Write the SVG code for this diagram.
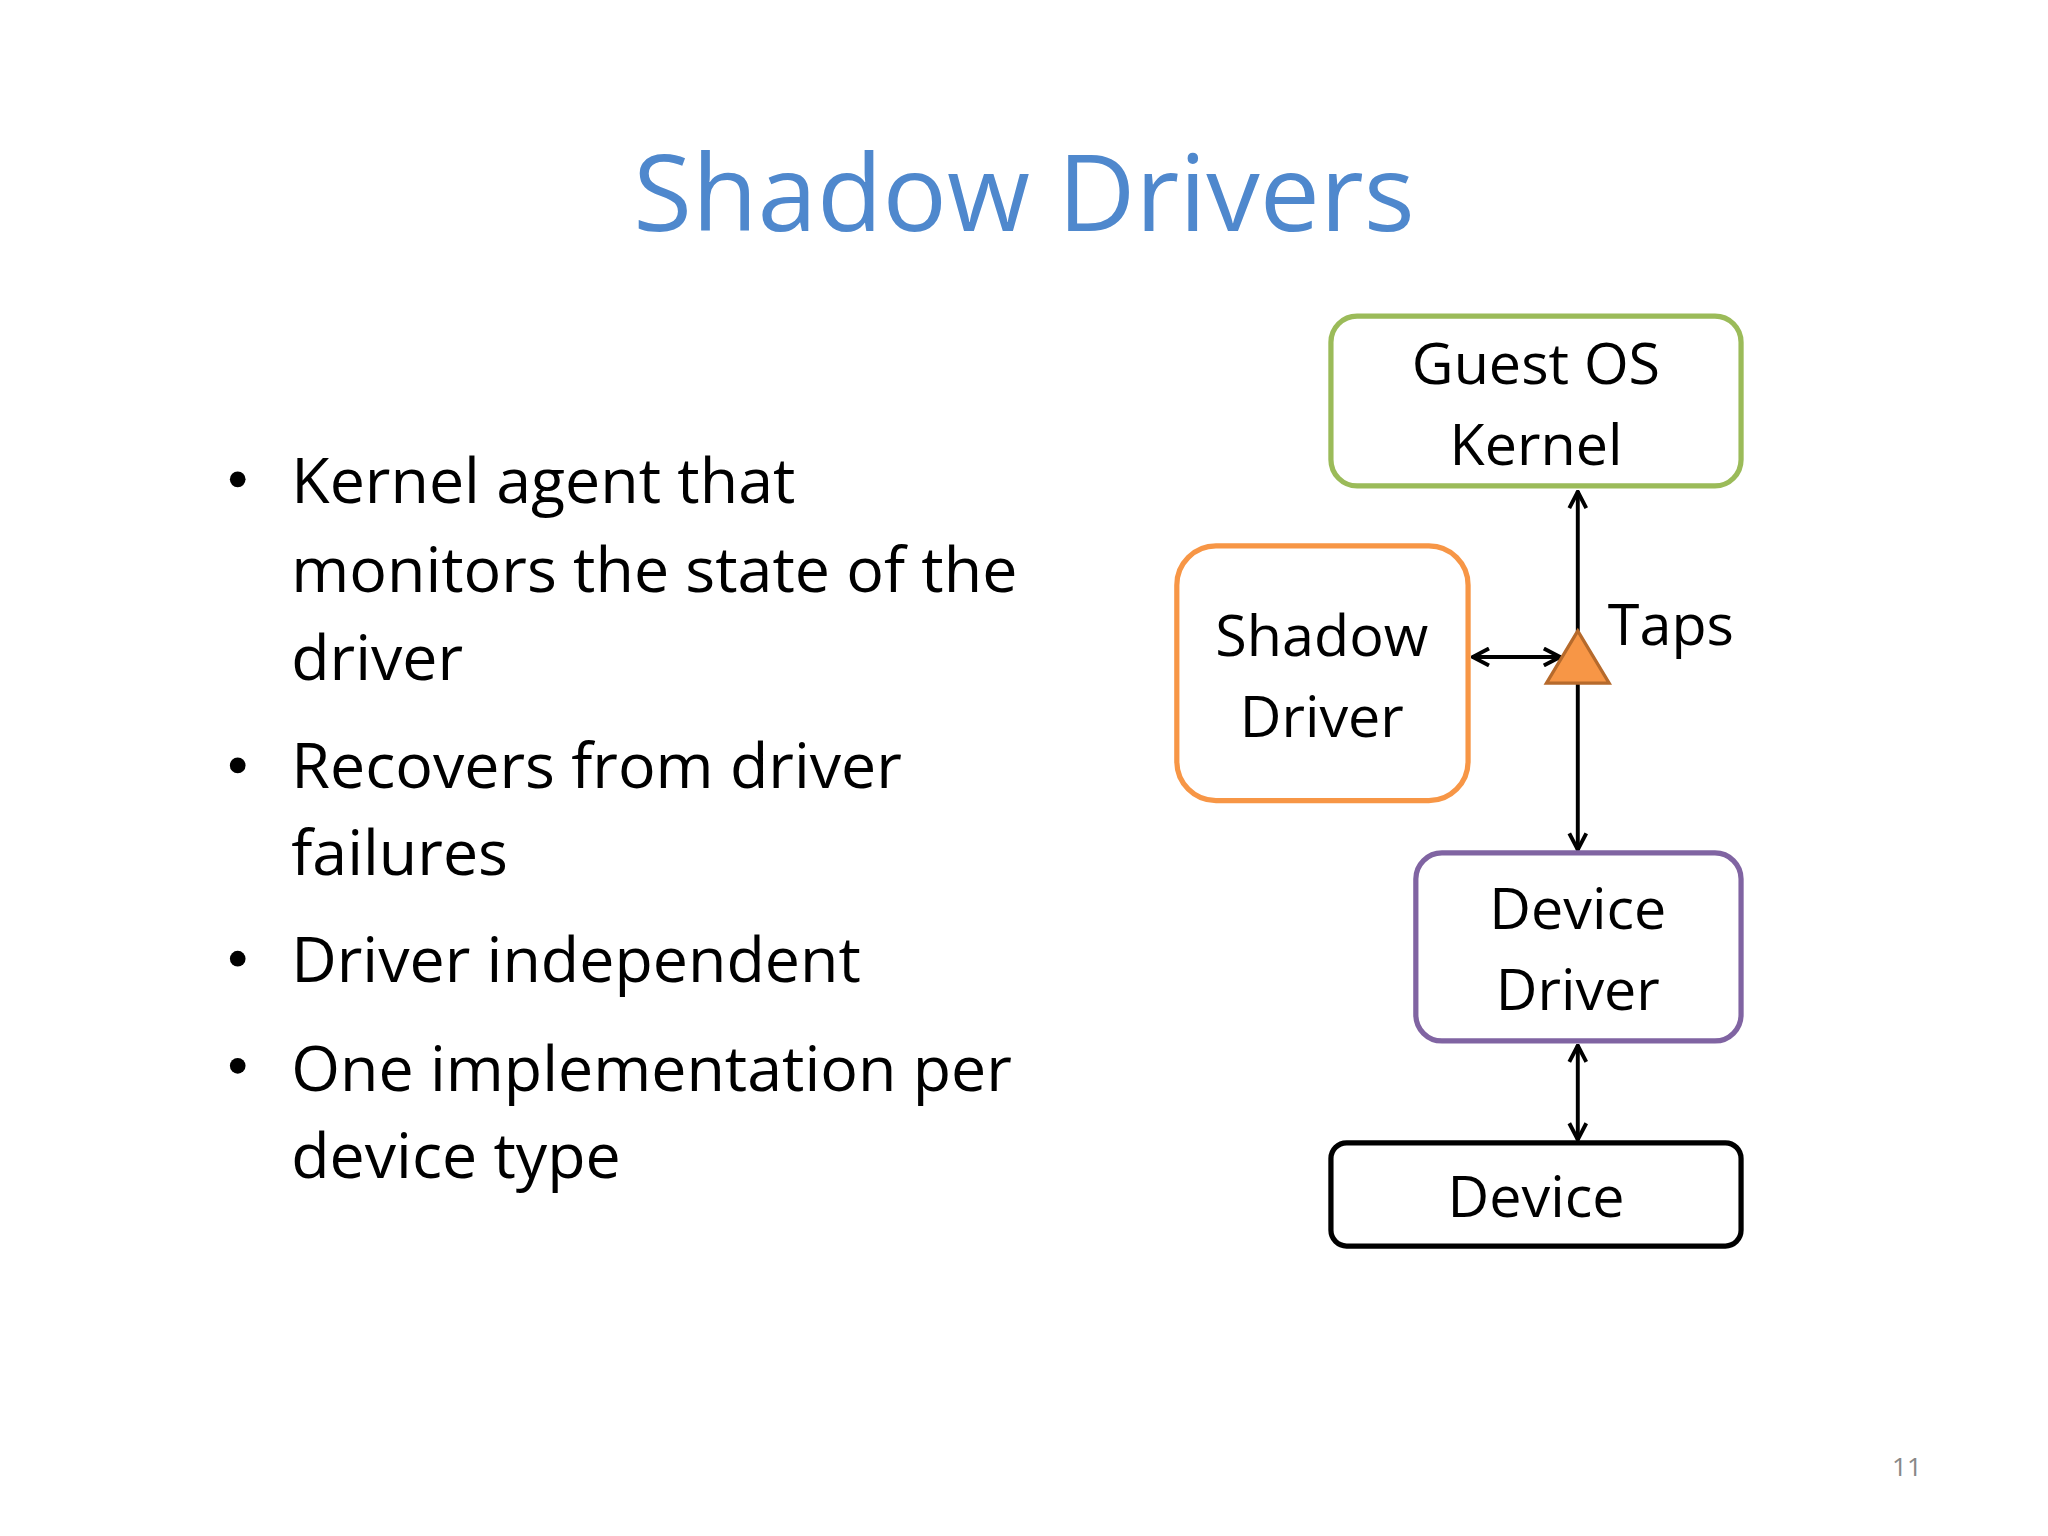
<svg xmlns="http://www.w3.org/2000/svg" width="2048" height="1536" viewBox="0 0 2048 1536">
<style>
text{font-family:"Open Sans","DejaVu Sans",sans-serif;fill:#000}
.b{font-size:48px}
.n{font-size:44px;text-anchor:middle}
.box{fill:#fff;stroke-width:4}
.c{stroke:#000;stroke-width:3;fill:none}
</style>
<defs>
<marker id="ah" viewBox="0 0 16 16" refX="15" refY="8" markerWidth="16" markerHeight="16" markerUnits="userSpaceOnUse" orient="auto-start-reverse">
<path d="M2,1.5 L14.5,8 L2,14.5" fill="none" stroke="#000" stroke-width="3"/>
</marker>
</defs>
<rect width="2048" height="1536" fill="#fff"/>
<g transform="scale(1.30612)">
<text x="784" y="177" text-anchor="middle" style="font-size:82px;fill:#4F88CD">Shadow Drivers</text>
<g id="bullets">
<circle cx="182" cy="367" r="6"/><circle cx="182" cy="586" r="6"/><circle cx="182" cy="734" r="6"/><circle cx="182" cy="816" r="6"/>
<text class="b" x="223" y="385">Kernel agent that</text>
<text class="b" x="223" y="453">monitors the state of the</text>
<text class="b" x="223" y="521">driver</text>
<text class="b" x="223" y="603">Recovers from driver</text>
<text class="b" x="223" y="670">failures</text>
<text class="b" x="223" y="752">Driver independent</text>
<text class="b" x="223" y="835">One implementation per</text>
<text class="b" x="223" y="902">device type</text>
</g>
<g id="connectors">
<line class="c" x1="1208" y1="376" x2="1208" y2="651" marker-start="url(#ah)" marker-end="url(#ah)"/>
<line class="c" x1="1127" y1="503" x2="1195" y2="503" marker-start="url(#ah)" marker-end="url(#ah)"/>
<line class="c" x1="1208" y1="800" x2="1208" y2="873" marker-start="url(#ah)" marker-end="url(#ah)"/>
</g>
<g id="taps">
<polygon points="1208,483 1184,523 1232,523" fill="#F79646" stroke="#B66A2C" stroke-width="2.5"/>
<text x="1231" y="494" style="font-size:44px">Taps</text>
</g>
<g id="guest">
<rect class="box" x="1019" y="242" width="314" height="130" rx="20" stroke="#9BBB59"/>
<text class="n" x="1176" y="294">Guest OS</text>
<text class="n" x="1176" y="356">Kernel</text>
</g>
<g id="shadow">
<rect class="box" x="901" y="418" width="223" height="195" rx="30" stroke="#F79646"/>
<text class="n" x="1012" y="502">Shadow</text>
<text class="n" x="1012" y="564">Driver</text>
</g>
<g id="devdriver">
<rect class="box" x="1084" y="653" width="249" height="144" rx="20" stroke="#8064A2"/>
<text class="n" x="1208" y="711">Device</text>
<text class="n" x="1208" y="773">Driver</text>
</g>
<g id="device">
<rect class="box" x="1019" y="875" width="314" height="79" rx="12" stroke="#000"/>
<text class="n" x="1176" y="932">Device</text>
</g>
<text x="1460" y="1130" text-anchor="middle" style="font-size:20px;fill:#888">11</text>
</g>
</svg>
